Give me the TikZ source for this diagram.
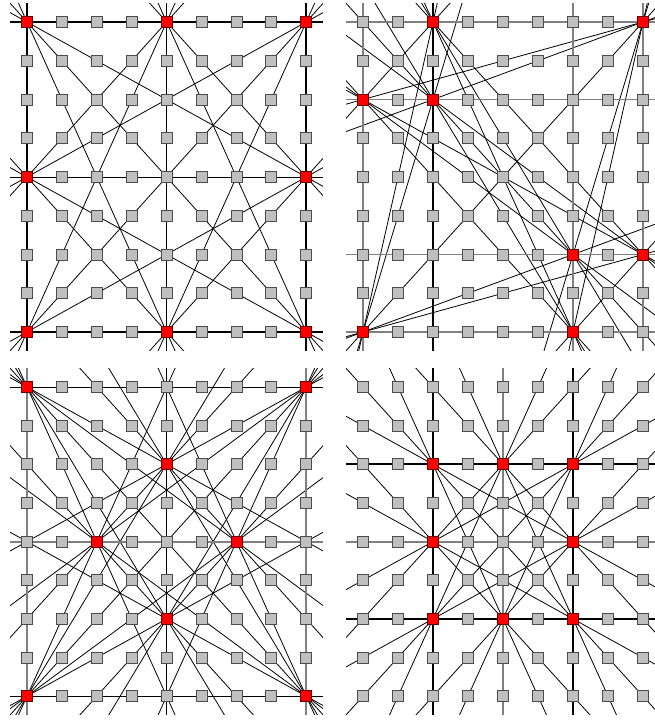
\documentclass[tikz,border=0pt]{standalone}
\usetikzlibrary{calc,backgrounds}

\tikzset{
  cell/.style={rectangle,draw=black!70,fill=black!25,line width=0.8pt,minimum size=11pt,inner sep=0pt},
  hit/.style={cell,draw=black!60!red,fill=red},
  pairline/.style={line width=0.8pt},
  heavyaxis/.style={line width=1.8pt},
  greyaxis/.style={line width=1.8pt,draw=black!50},
}
% the line through two named points, long enough to leave the clip
\newcommand\throughline[3]{\draw[#1] ($(#2)!-6!(#3)$) -- ($(#3)!-6!(#2)$);}

\begin{document}
\begin{tikzpicture}[x=1pt,y=1pt]
\useasboundingbox (0,0) rectangle (655,-722);

% top left
\begin{scope}[shift={(27pt,-22pt)},x={(34.9pt,0pt)},y={(0pt,-38.75pt)}]
\foreach \c in {0,...,8} \foreach \r in {0,...,8} \node[cell] (a-\c-\r) at (\c,\r) {};
\foreach \p [count=\k] in {(0,0),(4,0),(8,0),(0,4),(8,4),(0,8),(4,8),(8,8)} \node[hit] (a\k) at \p {};
\begin{pgfonlayer}{background}
\begin{scope}
\clip (-0.48,-0.48) rectangle (8.48,8.48);
\foreach \i in {1,...,8} \foreach \j in {1,...,8} {\ifnum\i<\j \throughline{pairline}{a\i}{a\j}\fi}
\throughline{heavyaxis}{a1}{a3}
\throughline{heavyaxis}{a6}{a8}
\throughline{heavyaxis}{a1}{a6}
\throughline{heavyaxis}{a3}{a8}
\end{scope}
\end{pgfonlayer}
\end{scope}

% top right
\begin{scope}[shift={(363pt,-22pt)},x={(35pt,0pt)},y={(0pt,-38.75pt)}]
\foreach \c in {0,...,8} \foreach \r in {0,...,8} \node[cell] (b-\c-\r) at (\c,\r) {};
\foreach \p [count=\k] in {(2,0),(8,0),(0,2),(2,2),(6,6),(8,6),(0,8),(6,8)} \node[hit] (b\k) at \p {};
\begin{pgfonlayer}{background}
\begin{scope}
\clip (-0.48,-0.48) rectangle (8.48,8.48);
\foreach \i in {1,...,8} \foreach \j in {1,...,8} {\ifnum\i<\j \throughline{pairline}{b\i}{b\j}\fi}
\throughline{greyaxis}{b1}{b2}
\throughline{greyaxis}{b3}{b4}
\throughline{greyaxis}{b5}{b6}
\throughline{greyaxis}{b7}{b8}
\throughline{greyaxis}{b3}{b7}
\throughline{greyaxis}{b5}{b8}
\throughline{greyaxis}{b2}{b6}
\throughline{heavyaxis}{b1}{b4}
\end{scope}
\end{pgfonlayer}
\end{scope}

% bottom left
\begin{scope}[shift={(27pt,-387pt)},x={(34.9pt,0pt)},y={(0pt,-38.65pt)}]
\foreach \c in {0,...,8} \foreach \r in {0,...,8} \node[cell] (c-\c-\r) at (\c,\r) {};
\foreach \p [count=\k] in {(0,0),(8,0),(4,2),(2,4),(6,4),(4,6),(0,8),(8,8)} \node[hit] (c\k) at \p {};
\begin{pgfonlayer}{background}
\begin{scope}
\clip (-0.48,-0.48) rectangle (8.48,8.48);
\foreach \i in {1,...,8} \foreach \j in {1,...,8} {\ifnum\i<\j \throughline{pairline}{c\i}{c\j}\fi}
\throughline{greyaxis}{c1}{c7}
\throughline{greyaxis}{c2}{c8}
\throughline{greyaxis}{c4}{c5}
\end{scope}
\end{pgfonlayer}
\end{scope}

% bottom right
\begin{scope}[shift={(363pt,-387pt)},x={(35pt,0pt)},y={(0pt,-38.65pt)}]
\foreach \c in {0,...,8} \foreach \r in {0,...,8} \node[cell] (d-\c-\r) at (\c,\r) {};
\foreach \p [count=\k] in {(2,2),(4,2),(6,2),(2,4),(6,4),(2,6),(4,6),(6,6)} \node[hit] (d\k) at \p {};
\begin{pgfonlayer}{background}
\begin{scope}
\clip (-0.48,-0.48) rectangle (8.48,8.48);
\foreach \i in {1,...,8} \foreach \j in {1,...,8} {\ifnum\i<\j \throughline{pairline}{d\i}{d\j}\fi}
\throughline{greyaxis}{d4}{d5}
\throughline{greyaxis}{d2}{d7}
\throughline{heavyaxis}{d1}{d3}
\throughline{heavyaxis}{d6}{d8}
\throughline{heavyaxis}{d1}{d6}
\throughline{heavyaxis}{d3}{d8}
\end{scope}
\end{pgfonlayer}
\end{scope}

\end{tikzpicture}
\end{document}
